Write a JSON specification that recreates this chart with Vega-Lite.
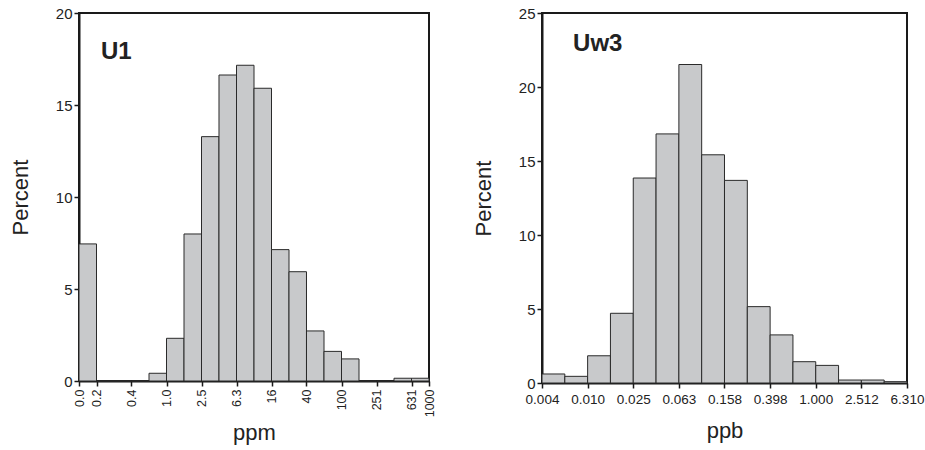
{
  "$schema": "https://vega.github.io/schema/vega-lite/v6.json",
  "padding": {"left": 8, "top": 5, "right": 5, "bottom": 5},
  "config": {
    "font": "Liberation Sans",
    "view": {"stroke": "#1a1a1a", "strokeWidth": 2},
    "axis": {"grid": false, "domainColor": "#1a1a1a", "domainWidth": 2, "tickColor": "#1a1a1a", "tickWidth": 1.5, "tickSize": 5, "labelColor": "#222", "titleColor": "#222", "titleFontWeight": "normal", "titleFontSize": 22, "labelFontSize": 15, "labelFont": "Liberation Sans", "titleFont": "Liberation Sans", "labelOverlap": false, "labelBound": false, "labelFlush": false},
    "concat": {"spacing": 34}
  },
  "datasets": {
    "u1": [
      {"lo": 0.1, "hi": 0.1585, "percent": 7.45},
      {"lo": 0.1585, "hi": 0.2512, "percent": 0},
      {"lo": 0.2512, "hi": 0.3981, "percent": 0},
      {"lo": 0.3981, "hi": 0.631, "percent": 0},
      {"lo": 0.631, "hi": 1, "percent": 0.42},
      {"lo": 1, "hi": 1.585, "percent": 2.32},
      {"lo": 1.585, "hi": 2.512, "percent": 7.99},
      {"lo": 2.512, "hi": 3.981, "percent": 13.28},
      {"lo": 3.981, "hi": 6.31, "percent": 16.63},
      {"lo": 6.31, "hi": 10, "percent": 17.16},
      {"lo": 10, "hi": 15.85, "percent": 15.91},
      {"lo": 15.85, "hi": 25.12, "percent": 7.14},
      {"lo": 25.12, "hi": 39.81, "percent": 5.94},
      {"lo": 39.81, "hi": 63.1, "percent": 2.72},
      {"lo": 63.1, "hi": 100, "percent": 1.61},
      {"lo": 100, "hi": 158.5, "percent": 1.2},
      {"lo": 158.5, "hi": 251.2, "percent": 0},
      {"lo": 251.2, "hi": 398.1, "percent": 0},
      {"lo": 398.1, "hi": 631, "percent": 0.15},
      {"lo": 631, "hi": 1000, "percent": 0.15}
    ],
    "uw3": [
      {"lo": 0.003981, "hi": 0.00631, "percent": 0.61},
      {"lo": 0.00631, "hi": 0.01, "percent": 0.45},
      {"lo": 0.01, "hi": 0.01585, "percent": 1.84},
      {"lo": 0.01585, "hi": 0.02512, "percent": 4.71},
      {"lo": 0.02512, "hi": 0.03981, "percent": 13.85},
      {"lo": 0.03981, "hi": 0.0631, "percent": 16.83},
      {"lo": 0.0631, "hi": 0.1, "percent": 21.52},
      {"lo": 0.1, "hi": 0.15849, "percent": 15.42},
      {"lo": 0.15849, "hi": 0.2512, "percent": 13.69},
      {"lo": 0.2512, "hi": 0.3981, "percent": 5.16},
      {"lo": 0.3981, "hi": 0.631, "percent": 3.25},
      {"lo": 0.631, "hi": 1, "percent": 1.44},
      {"lo": 1, "hi": 1.585, "percent": 1.19},
      {"lo": 1.585, "hi": 2.512, "percent": 0.2},
      {"lo": 2.512, "hi": 3.981, "percent": 0.2},
      {"lo": 3.981, "hi": 6.31, "percent": 0.09}
    ]
  },
  "hconcat": [
    {
      "width": 350,
      "height": 368,
      "layer": [
        {
          "data": {"name": "u1"},
          "mark": {"type": "bar", "fill": "#c8c9cb", "stroke": "#2a2a2a", "strokeWidth": 1},
          "encoding": {
            "x": {"field": "lo", "type": "quantitative",
              "scale": {"type": "log", "domain": [0.1, 1000], "nice": false},
              "axis": {"title": "ppm", "values": [0.1, 0.1585, 0.3981, 1, 2.512, 6.31, 15.85, 39.81, 100, 251.2, 631, 1000],
                "labelAngle": -90, "labelFontSize": 12.5, "labelPadding": 3, "titlePadding": 6,
                "labelExpr": "datum.value < 0.12 ? '0.0' : datum.value < 10 ? format(datum.value, '.1f') : format(datum.value, '.0f')"}},
            "x2": {"field": "hi"},
            "y": {"field": "percent", "type": "quantitative",
              "scale": {"domain": [0, 20], "nice": false},
              "axis": {"title": "Percent", "values": [0, 5, 10, 15, 20], "titlePadding": 23}},
            "y2": {"datum": 0}
          }
        },
        {
          "data": {"values": [{"name": "U1", "lo": 0.178, "percent": 17.9}]},
          "mark": {"type": "text", "fontSize": 24, "fontWeight": "bold", "align": "left", "baseline": "middle", "color": "#222", "font": "Liberation Sans"},
          "encoding": {
            "x": {"field": "lo", "type": "quantitative"},
            "y": {"field": "percent", "type": "quantitative"},
            "text": {"field": "name"}
          }
        }
      ]
    },
    {
      "width": 365,
      "height": 370,
      "layer": [
        {
          "data": {"name": "uw3"},
          "mark": {"type": "bar", "fill": "#c8c9cb", "stroke": "#2a2a2a", "strokeWidth": 1},
          "encoding": {
            "x": {"field": "lo", "type": "quantitative",
              "scale": {"type": "log", "domain": [0.003981, 6.31], "nice": false},
              "axis": {"title": "ppb", "values": [0.003981, 0.01, 0.02512, 0.0631, 0.15849, 0.3981, 1, 2.512, 6.31],
                "labelAngle": 0, "labelFontSize": 13.5, "labelPadding": 4, "titlePadding": 15, "format": ".3f"}},
            "x2": {"field": "hi"},
            "y": {"field": "percent", "type": "quantitative",
              "scale": {"domain": [0, 25], "nice": false},
              "axis": {"title": "Percent", "values": [0, 5, 10, 15, 20, 25], "titlePadding": 23}},
            "y2": {"datum": 0}
          }
        },
        {
          "data": {"values": [{"name": "Uw3", "lo": 0.00745, "percent": 22.9}]},
          "mark": {"type": "text", "fontSize": 24, "fontWeight": "bold", "align": "left", "baseline": "middle", "color": "#222", "font": "Liberation Sans"},
          "encoding": {
            "x": {"field": "lo", "type": "quantitative"},
            "y": {"field": "percent", "type": "quantitative"},
            "text": {"field": "name"}
          }
        }
      ]
    }
  ]
}
